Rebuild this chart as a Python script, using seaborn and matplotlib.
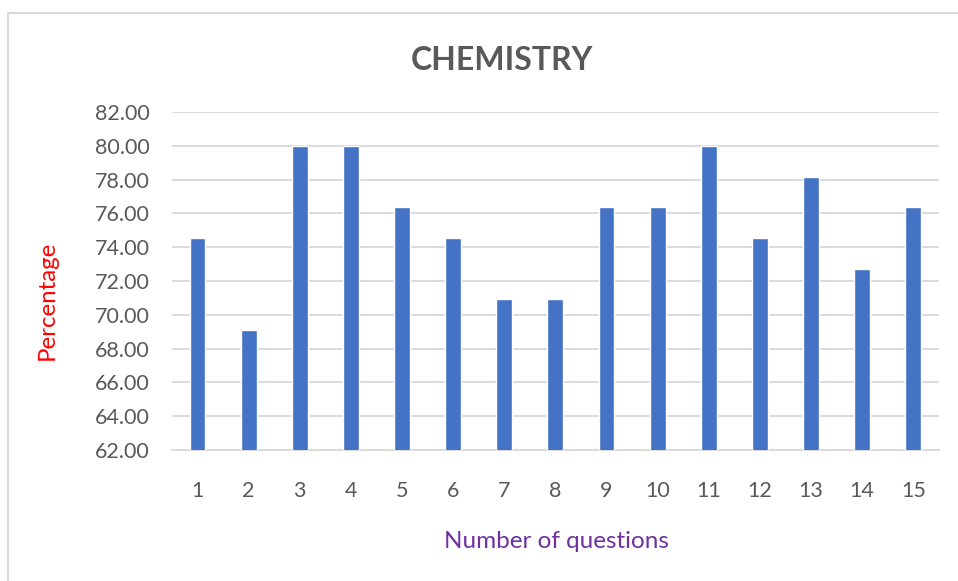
import seaborn as sns
import matplotlib.pyplot as plt
import pandas as pd
from matplotlib.patches import Rectangle

sns.set_theme(style="white")
plt.rcParams['font.family'] = ['Lato', 'DejaVu Sans']

# dados
questoes = [str(i) for i in range(1, 16)]
percentagem = [74.55, 69.09, 80.00, 80.00, 76.36, 74.55, 70.91, 70.91,
               76.36, 76.36, 80.00, 74.55, 78.18, 72.73, 76.36]
y_ticks = [62, 64, 66, 68, 70, 72, 74, 76, 78, 80, 82]

df = pd.DataFrame({"questao": questoes, "percentagem": percentagem})

fig = plt.figure(figsize=(9.58, 5.81), dpi=100)
ax = fig.add_axes([0.1795, 0.2255, 0.8005, 0.5817])

sns.barplot(data=df, x="questao", y="percentagem", color="#4472C4",
            width=0.31, saturation=1, ax=ax, zorder=3)

ax.set_ylim(62, 82)
ax.set_yticks(y_ticks)
ax.set_yticklabels([f"{v:.2f}" for v in y_ticks])
ax.yaxis.grid(True, color="#D9D9D9", linewidth=1.3, zorder=0)
ax.set_axisbelow(True)
for s in ["top", "right", "left"]:
    ax.spines[s].set_visible(False)
ax.spines["bottom"].set_color("#D9D9D9")
ax.spines["bottom"].set_linewidth(1.3)
ax.tick_params(axis="both", length=0, labelsize=15.5, labelcolor="#595959")
ax.tick_params(axis="x", pad=22)
ax.tick_params(axis="y", pad=16)
ax.set_xlabel("")
ax.set_ylabel("")

# titulos
fig.text(502 / 958, 1 - 60 / 581, "CHEMISTRY", ha="center", va="center",
         fontsize=23, fontweight="bold", color="#595959")
fig.text(47 / 958, 1 - 300 / 581, "Percentage", ha="center", va="center",
         rotation=90, fontsize=17.3, color="#FF0000")
fig.text(556 / 958, 1 - 541 / 581, "Number of questions", ha="center",
         va="center", fontsize=17.5, color="#7030A0")

# borda do grafico
fig.patches.append(Rectangle((8 / 958, -0.1), 1.2, 1 - 13 / 581 + 0.1,
                             transform=fig.transFigure, fill=False,
                             edgecolor="#D9D9D9", linewidth=1.5))

plt.savefig("out.png", dpi=100)
